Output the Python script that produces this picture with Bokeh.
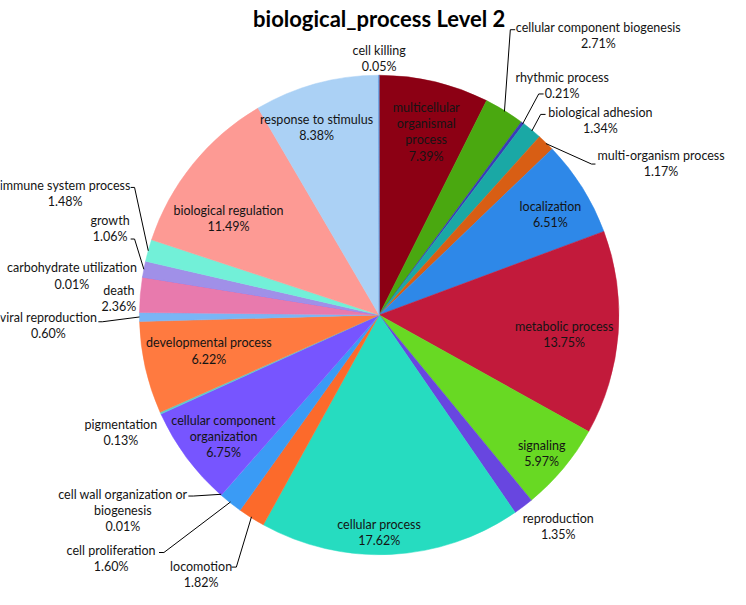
import math
from bokeh.plotting import figure
from bokeh.models import ColumnDataSource, Range1d
from bokeh.core.properties import value
from bokeh.embed import file_html
from bokeh.resources import INLINE

# ---------------- data ----------------
categories = [
    "multicellular organismal process", "cellular component biogenesis", "rhythmic process",
    "biological adhesion", "multi-organism process", "localization", "metabolic process",
    "signaling", "reproduction", "cellular process", "locomotion", "cell proliferation",
    "cell wall organization or biogenesis", "cellular component organization", "pigmentation",
    "developmental process", "viral reproduction", "death", "carbohydrate utilization",
    "growth", "immune system process", "biological regulation", "response to stimulus",
    "cell killing",
]
percents = [7.39, 2.71, 0.21, 1.34, 1.17, 6.51, 13.75, 5.97, 1.35, 17.62, 1.82, 1.60,
            0.01, 6.75, 0.13, 6.22, 0.60, 2.36, 0.01, 1.06, 1.48, 11.49, 8.38, 0.05]
colors = ["#8c0014", "#4aa810", "#3b3bb8", "#1aa8a5", "#d85e14", "#2e88e8", "#c21a3b",
          "#68d923", "#6846e0", "#26dcc0", "#fc6a2b", "#3a9bf5", "#a0a0ff", "#7755ff",
          "#5ccccc", "#ff7a40", "#7ab5f5", "#e87aad", "#8080ff", "#a090e8", "#72f0d8",
          "#fd9a94", "#abd1f5", "#5e9be0"]
title_text = "biological_process Level 2"

# ---------------- layout (reference pixel coordinates) ----------------
W, H = 746, 605
CX, CY, R = 387, 323, 245
FONT = "Lato"
LINE = 16.5

label_lines = {
    "multicellular organismal process": ["multicellular", "organismal", "process"],
    "cell wall organization or biogenesis": ["cell wall organization or", "biogenesis"],
    "cellular component organization": ["cellular component", "organization"],
}
label_pos = {
    "multicellular organismal process": (435, 135),
    "cellular component biogenesis": (611, 36),
    "rhythmic process": (574, 87),
    "biological adhesion": (613, 123),
    "multi-organism process": (675, 167),
    "localization": (562, 220),
    "metabolic process": (576, 343),
    "signaling": (553, 465),
    "reproduction": (570, 540),
    "cellular process": (387, 546),
    "locomotion": (205, 590),
    "cell proliferation": (113, 573),
    "cell wall organization or biogenesis": (125, 524),
    "cellular component organization": (228, 448),
    "pigmentation": (123, 444),
    "developmental process": (213, 360),
    "viral reproduction": (49, 334),
    "death": (121, 306),
    "carbohydrate utilization": (73, 283),
    "growth": (112, 234),
    "immune system process": (66, 198),
    "biological regulation": (233, 224),
    "response to stimulus": (323, 130),
    "cell killing": (387, 60),
}
leaders = {
    "cellular component biogenesis": [(521, 30), (526, 30)],
    "rhythmic process": [(550, 96), (555, 96)],
    "biological adhesion": [(552, 117), (557, 117)],
    "multi-organism process": [(604, 168), (608, 168)],
    "locomotion": [(241, 582), (236, 582)],
    "cell proliferation": [(167, 567), (162, 567)],
    "cell wall organization or biogenesis": [(197, 509), (192, 509)],
    "viral reproduction": [(104, 330), (100, 330)],
    "growth": [(137, 245), (133, 245)],
    "immune system process": [(137, 192), (133, 192)],
}

def fy(y):
    return H - y

# ---------------- slice angles ----------------
total = sum(percents)
starts, ends, mids = [], [], []
cum = 0.0
for v in percents:
    a0 = math.pi / 2 - 2 * math.pi * cum / total
    cum += v
    a1 = math.pi / 2 - 2 * math.pi * cum / total
    starts.append(a0)
    ends.append(a1)
    mids.append((a0 + a1) / 2)

p = figure(width=730, height=589, output_backend="svg", toolbar_location=None,
           x_range=Range1d(0, W), y_range=Range1d(0, H),
           min_border=0, outline_line_color=None)
p.axis.visible = False
p.grid.visible = False
p.background_fill_color = "white"
p.border_fill_color = "white"

wsrc = ColumnDataSource(dict(start=starts, end=ends, color=colors, name=categories))
p.wedge(x=CX, y=fy(CY), radius=R, start_angle="start", end_angle="end",
        direction="clock", fill_color="color", line_color="color", line_width=0.5,
        source=wsrc)

# leader lines
lx, ly = [], []
for i, name in enumerate(categories):
    if name in leaders:
        rx = CX + R * math.cos(mids[i])
        ry = CY - R * math.sin(mids[i])
        pts = [(rx, ry)] + leaders[name]
        lx.append([q[0] for q in pts])
        ly.append([fy(q[1]) for q in pts])
p.multi_line(xs=lx, ys=ly, line_color="#000000", line_width=1)

# labels
tx, ty, tt = [], [], []
for i, name in enumerate(categories):
    lines = label_lines.get(name, [name]) + ["%.2f%%" % percents[i]]
    cx, cy = label_pos[name]
    n = len(lines)
    for k, s in enumerate(lines):
        tx.append(cx)
        ty.append(fy(cy + (k - (n - 1) / 2) * LINE))
        tt.append(s)
p.text(x=tx, y=ty, text=tt, text_align="center", text_baseline="middle",
       text_font=value(FONT), text_font_size="12.5px", text_color="#141414")

p.text(x=[CX], y=[fy(19)], text=[title_text], text_align="center", text_baseline="middle",
       text_font=value(FONT), text_font_size="22px", text_font_style="bold",
       text_color="#000000")

open("out.html", "w").write(file_html(p, INLINE))
